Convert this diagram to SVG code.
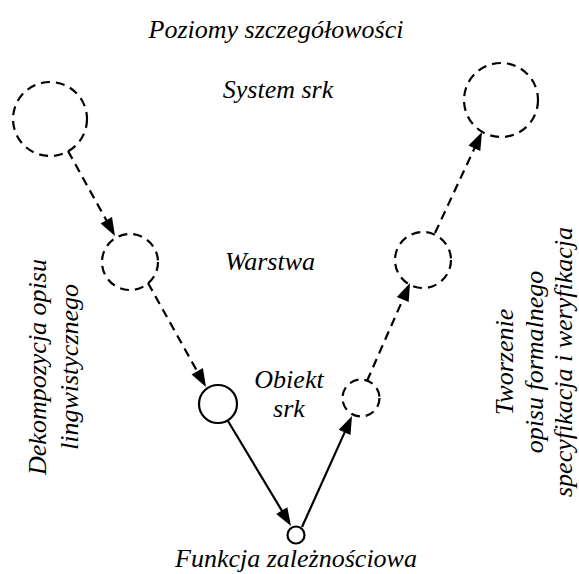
<svg xmlns="http://www.w3.org/2000/svg" width="579" height="574" viewBox="0 0 579 574">
<rect width="579" height="574" fill="#fff"/>
<text x="276" y="38" font-family="Liberation Serif" font-size="26" font-style="italic" text-anchor="middle">Poziomy szczegółowości</text>
<g fill="none" stroke="#000" stroke-width="2.2">
<g id="n1"><circle cx="50" cy="119" r="37" stroke-dasharray="9 6"/></g>
<g id="n2"><circle cx="130" cy="262" r="28" stroke-dasharray="9 6"/></g>
<g id="n3"><circle cx="218" cy="404" r="19"/></g>
<g id="n4"><circle cx="296" cy="535" r="8.5"/></g>
<g id="n5"><circle cx="361" cy="398" r="18.5" stroke-dasharray="9 6"/></g>
<g id="n6"><circle cx="423" cy="260" r="28" stroke-dasharray="9 6"/></g>
<g id="n7"><circle cx="501" cy="100" r="37" stroke-dasharray="9 6"/></g>
</g>
<g id="connectors">
<g fill="none" stroke="#000" stroke-width="2.2">
<line x1="68" y1="151" x2="110.2" y2="227.2" stroke-dasharray="9 6"/>
<line x1="148" y1="283" x2="201.1" y2="378.3" stroke-dasharray="9 6"/>
<line x1="228" y1="421" x2="285.9" y2="517.4"/>
<line x1="302" y1="527" x2="347.9" y2="425.1"/>
<line x1="367" y1="381" x2="406" y2="292.2" stroke-dasharray="9 6"/>
<line x1="435" y1="233" x2="477.8" y2="141.1" stroke-dasharray="9 6"/>
</g>
<g fill="#000">
<polygon points="115,236 100.6,223.4 112,217.1"/>
<polygon points="206,387 191.6,374.5 202.9,368.1"/>
<polygon points="291,526 276.2,513.9 287.3,507.2"/>
<polygon points="352,416 350.5,435.1 338.7,429.7"/>
<polygon points="410,283 408.7,302.1 396.8,296.9"/>
<polygon points="482,132 480.3,151.1 468.5,145.6"/>
</g>
</g>
<g id="labels" font-family="Liberation Serif" font-size="26" font-style="italic" text-anchor="middle">
<text x="278" y="98">System srk</text>
<text x="270" y="270">Warstwa</text>
<text x="289" y="388">Obiekt</text>
<text x="289" y="417">srk</text>
<text x="296" y="567">Funkcja zależnościowa</text>
<text transform="translate(46,367) rotate(-90)">Dekompozycja opisu</text>
<text transform="translate(78,367) rotate(-90)">lingwistycznego</text>
<text transform="translate(513,362) rotate(-90)">Tworzenie</text>
<text transform="translate(543,362) rotate(-90)">opisu formalnego</text>
<text transform="translate(572,362) rotate(-90)">specyfikacja i weryfikacja</text>
</g>
</svg>
